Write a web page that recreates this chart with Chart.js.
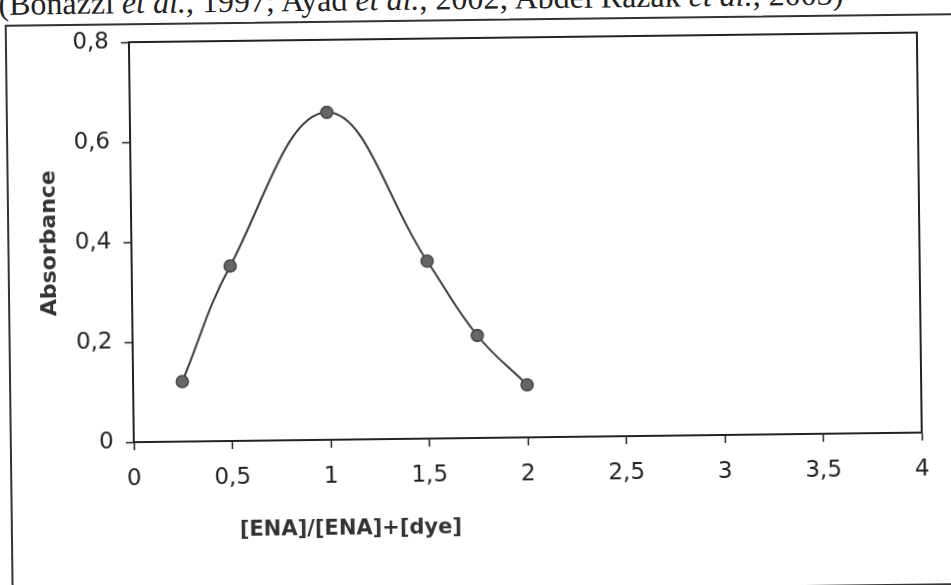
<!DOCTYPE html>
<html>
<head>
<meta charset="utf-8">
<script src="https://cdn.jsdelivr.net/npm/chart.js@4.4.0/dist/chart.umd.min.js"></script>
<style>
  html, body { margin: 0; padding: 0; background: #fff; overflow: hidden; }
  #page { position: relative; width: 951px; height: 585px; transform: rotate(-0.7deg); transform-origin: 475px 292px; }
  #cite { position: absolute; left: 2px; top: -18px; font: 32px "Liberation Serif", serif; line-height: 32px; color: #222; white-space: nowrap; }
  #frame { position: absolute; left: 8px; top: 19px; width: 960px; height: 568px; border: 2px solid #333; }
  #chart { position: absolute; left: 0; top: 0; }
</style>
</head>
<body>
<div id="page">
  <div id="cite">(Bonazzi <i>et al.</i>, 1997; Ayad <i>et al.</i>, 2002; Abdel Razak <i>et al.</i>, 2003)</div>
  <div id="frame"></div>
  <canvas id="chart" width="951" height="585"></canvas>
</div>
<script>
// mole ratio vs absorbance
const ratio = [0.25, 0.5, 1, 1.5, 1.75, 2];
const absorbance = [0.12, 0.35, 0.655, 0.355, 0.205, 0.105];
const xTicks = [0, 0.5, 1, 1.5, 2, 2.5, 3, 3.5, 4];
const yTicks = [0, 0.2, 0.4, 0.6, 0.8];
const xTitle = "[ENA]/[ENA]+[dye]";
const yTitle = "Absorbance";

const ink = "#222";
const comma = (v) => String(v).replace(".", ",");

// box round the plot + x title placed left of centre like the original
const boxPlugin = {
  id: "box",
  afterDraw(chart) {
    const { ctx, chartArea } = chart;
    ctx.save();
    ctx.strokeStyle = ink;
    ctx.lineWidth = 2;
    ctx.strokeRect(chartArea.left, chartArea.top, chartArea.right - chartArea.left, chartArea.bottom - chartArea.top);
    ctx.fillStyle = "#333";
    ctx.font = "bold 21px 'DejaVu Sans'";
    ctx.textAlign = "center";
    ctx.textBaseline = "middle";
    ctx.fillText(xTitle, chartArea.left + 216, chartArea.bottom + 90);
    ctx.restore();
  },
};

new Chart(document.getElementById("chart"), {
  type: "line",
  data: {
    datasets: [
      {
        data: ratio.map((x, i) => ({ x: x, y: absorbance[i] })),
        borderColor: "#3a3a3a",
        borderWidth: 2,
        tension: 0.4,
        pointRadius: 6,
        pointBackgroundColor: "#666",
        pointBorderColor: "#444",
        pointBorderWidth: 1.5,
      },
    ],
  },
  options: {
    responsive: false,
    animation: false,
    devicePixelRatio: 1,
    layout: { padding: { left: 0, top: 38, right: 31, bottom: 0 } },
    plugins: { legend: { display: false }, tooltip: { enabled: false } },
    scales: {
      x: {
        type: "linear",
        min: 0,
        max: 4,
        afterBuildTicks: (scale) => { scale.ticks = xTicks.map((v) => ({ value: v })); },
        afterFit: (scale) => { scale.height = 147; },
        ticks: { color: ink, font: { family: "DejaVu Sans", size: 23 }, padding: 15, maxRotation: 0, callback: comma },
        grid: { drawOnChartArea: false, tickLength: 8, tickColor: ink, tickWidth: 1.5 },
        border: { color: ink, width: 2 },
      },
      y: {
        min: 0,
        max: 0.8,
        afterBuildTicks: (scale) => { scale.ticks = yTicks.map((v) => ({ value: v })); },
        afterFit: (scale) => { scale.width = 132; },
        ticks: { color: ink, font: { family: "DejaVu Sans", size: 23 }, padding: 12, callback: comma },
        grid: { drawOnChartArea: false, tickLength: 8, tickColor: ink, tickWidth: 1.5 },
        border: { color: ink, width: 2 },
        title: { display: true, text: yTitle, color: "#333", font: { family: "DejaVu Sans", size: 22, weight: "bold" }, padding: { top: 37, bottom: 0 } },
      },
    },
  },
  plugins: [boxPlugin],
});
</script>
</body>
</html>
